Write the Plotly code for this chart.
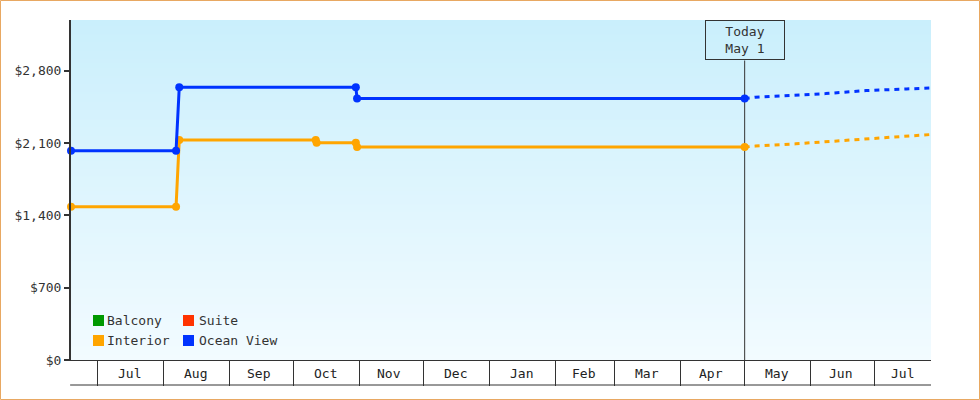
import zlib, struct, base64
import plotly.graph_objects as go

# ---------------- data ----------------
ocean_dates = ["2024-06-18 16:00", "2024-08-07", "2024-08-08 12:00", "2024-10-30 10:00", "2024-10-31", "2025-05-01"]
ocean_vals = [2025, 2025, 2640, 2640, 2530, 2530]
interior_dates = ["2024-06-18 16:00", "2024-08-07", "2024-08-08 12:00", "2024-10-11 14:00", "2024-10-12", "2024-10-30 10:00", "2024-10-31", "2025-05-01"]
interior_vals = [1484, 1484, 2128, 2128, 2102, 2102, 2060, 2060]

ocean_fc_dates = ["2025-05-01", "2025-05-06", "2025-06-08", "2025-06-17", "2025-06-27", "2025-07-16", "2025-07-27 12:00"]
ocean_fc_vals = [2530, 2543, 2578, 2594, 2607, 2623, 2632]
interior_fc_dates = ["2025-05-01", "2025-05-06", "2025-05-25", "2025-06-17", "2025-07-01", "2025-07-16", "2025-07-27 12:00"]
interior_fc_vals = [2060, 2070, 2092, 2124, 2147, 2166, 2182]

legend_names = ["Balcony", "Suite", "Interior", "Ocean View"]
legend_colors = ["#009900", "#ff3300", "#ffa500", "#0033ff"]

month_starts = ["2024-07-01", "2024-08-01", "2024-09-01", "2024-10-01", "2024-11-01", "2024-12-01",
                "2025-01-01", "2025-02-01", "2025-03-01", "2025-04-01", "2025-05-01", "2025-06-01", "2025-07-01"]
month_label_dates = ["2024-07-16", "2024-08-16", "2024-09-15", "2024-10-16", "2024-11-15", "2024-12-16",
                     "2025-01-16", "2025-02-14 12:00", "2025-03-16", "2025-04-15", "2025-05-16", "2025-06-15", "2025-07-14"]
month_labels = ["Jul", "Aug", "Sep", "Oct", "Nov", "Dec", "Jan", "Feb", "Mar", "Apr", "May", "Jun", "Jul"]

y_ticks = [0, 700, 1400, 2100, 2800]
y_tick_labels = ["$0", "$700", "$1,400", "$2,100", "$2,800"]
x_range = ["2024-06-18 16:00", "2025-07-27 12:00"]
y_range = [0, 3290]
today = "2025-05-01"
today_text = "Today<br>May 1"

FONT = "DejaVu Sans Mono"
BLUE = "#0033ff"
ORANGE = "#ffa500"
INK = "#333333"

# ---------------- gradient background image ----------------
def png_gradient(top, bottom, h=256):
    rows = b""
    for i in range(h):
        t = i / (h - 1)
        rows += b"\x00" + bytes([round(top[k] + (bottom[k] - top[k]) * t) for k in range(3)])
    def chunk(tag, data):
        c = struct.pack(">I", len(data)) + tag + data
        return c + struct.pack(">I", zlib.crc32(tag + data) & 0xffffffff)
    ihdr = struct.pack(">IIBBBBB", 1, h, 8, 2, 0, 0, 0)
    png = b"\x89PNG\r\n\x1a\n" + chunk(b"IHDR", ihdr) + chunk(b"IDAT", zlib.compress(rows)) + chunk(b"IEND", b"")
    return "data:image/png;base64," + base64.b64encode(png).decode()

bg = png_gradient((202, 239, 252), (242, 251, 255))

fig = go.Figure()

for d, v, c in [(interior_dates, interior_vals, ORANGE), (ocean_dates, ocean_vals, BLUE)]:
    fig.add_trace(go.Scatter(x=d, y=v, mode="lines+markers", line=dict(color=c, width=3),
                             marker=dict(color=c, size=8, symbol="circle"), showlegend=False,
                             hoverinfo="skip", cliponaxis=False))
for d, v, c in [(interior_fc_dates, interior_fc_vals, ORANGE), (ocean_fc_dates, ocean_fc_vals, BLUE)]:
    fig.add_trace(go.Scatter(x=d, y=v, mode="lines", line=dict(color=c, width=3, dash="5px,5px"),
                             showlegend=False, hoverinfo="skip"))

PW, PH = 860, 340
ML, MT = 71, 20

shapes = []
# today line
shapes.append(dict(type="line", xref="x", yref="paper", x0=today, x1=today, y0=0, y1=(PH - 40.5) / PH,
                   line=dict(color=INK, width=1), layer="below"))
# bottom line of month band
shapes.append(dict(type="line", xref="paper", yref="paper", x0=-0.001, x1=1, y0=-25 / PH, y1=-25 / PH,
                   line=dict(color=INK, width=1)))
# outer border
shapes.append(dict(type="rect", xref="paper", yref="paper",
                   x0=(0.5 - ML) / PW, x1=(979.5 - ML) / PW,
                   y0=(PH + MT - 399.5) / PH, y1=(PH + MT - 0.5) / PH,
                   line=dict(color="#e8a862", width=1)))

annotations = []
annotations.append(dict(x=today, xref="x", y=1, yref="paper", yanchor="top", xanchor="center",
                        text=today_text, showarrow=False, font=dict(family=FONT, size=13, color=INK),
                        bordercolor=INK, borderwidth=1, borderpad=3, width=72, height=32,
                        bgcolor="rgba(0,0,0,0)"))
for d, t in zip(month_label_dates, month_labels):
    annotations.append(dict(x=d, xref="x", y=0, yref="paper", yanchor="middle", yshift=-13,
                            text=t, showarrow=False, font=dict(family=FONT, size=13, color="#222222")))

# manual legend (2 columns)
sw_x = [22, 112]
tx_x = [34, 126]
rows_y = [39.5, 19.5]
for i, (name, col) in enumerate(zip(legend_names, legend_colors)):
    r, c = divmod(i, 2)
    shapes.append(dict(type="rect", xref="paper", yref="paper", xsizemode="pixel", ysizemode="pixel",
                       xanchor=0, yanchor=0, x0=sw_x[c], x1=sw_x[c] + 11,
                       y0=rows_y[r] - 5.5, y1=rows_y[r] + 5.5, fillcolor=col, line=dict(width=0)))
    annotations.append(dict(x=0, xref="paper", y=0, yref="paper", xanchor="left", yanchor="middle",
                            xshift=tx_x[c], yshift=rows_y[r], text=name, showarrow=False,
                            font=dict(family=FONT, size=13, color=INK)))

fig.update_layout(
    width=980, height=400,
    margin=dict(l=ML, r=980 - ML - PW, t=MT, b=400 - MT - PH, pad=0),
    paper_bgcolor="white", plot_bgcolor="white",
    font=dict(family=FONT, size=13, color=INK),
    images=[dict(source=bg, xref="paper", yref="paper", x=0, y=1, sizex=1, sizey=1,
                 sizing="stretch", layer="below", xanchor="left", yanchor="top")],
    shapes=shapes, annotations=annotations,
    xaxis=dict(type="date", range=x_range, tickvals=month_starts, showticklabels=False,
               ticks="outside", ticklen=25, tickwidth=1, tickcolor=INK,
               showline=True, linecolor=INK, linewidth=1, showgrid=False, zeroline=False),
    yaxis=dict(range=y_range, tickvals=y_ticks, ticktext=y_tick_labels,
               ticks="outside", ticklen=5, tickwidth=2, tickcolor=INK,
               showline=True, linecolor=INK, linewidth=2, showgrid=False, zeroline=False,
               tickfont=dict(family=FONT, size=13, color=INK)),
    showlegend=False,
)

fig.write_html("out.html", config={"displayModeBar": False},
               post_script="document.body.style.margin='0px';document.body.style.padding='0px';")
